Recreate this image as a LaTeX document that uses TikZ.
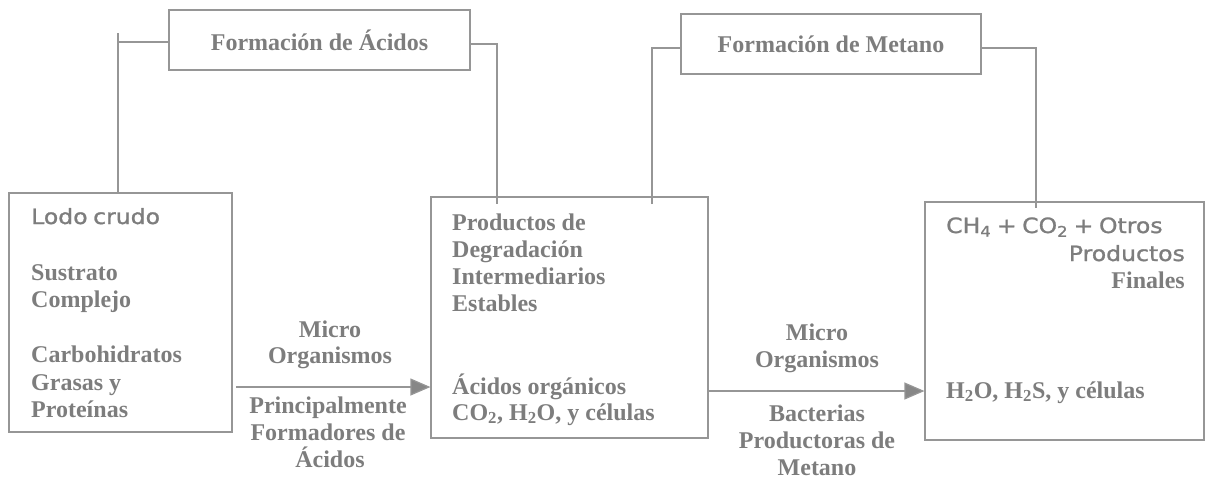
\documentclass[tikz,border=0pt]{standalone}
\usepackage{fontspec}
\setmainfont{Liberation Serif}
\newfontfamily\sansfnt[FakeStretch=1.12,FakeBold=1.2,WordSpace=0.75]{DejaVu Sans}
\usetikzlibrary{arrows.meta}
\definecolor{txt}{RGB}{125,125,125}
\definecolor{ln}{RGB}{150,150,150}
\definecolor{tip}{RGB}{135,135,135}
\begin{document}
\begin{tikzpicture}[x=1pt,y=-1pt,
  box/.style={draw=ln, line width=1.2pt, rectangle, inner sep=0pt},
  conn/.style={draw=ln, line width=1.2pt},
  arr/.style={draw=ln, line width=1.2pt, -{Triangle[length=20pt,width=17pt,fill=tip]}},
  st/.style={font=\fontsize{24}{27}\selectfont\bfseries, text=txt, inner sep=0pt, anchor=base west},
  ss/.style={font=\fontsize{21}{24}\selectfont\sansfnt, text=txt, inner sep=0pt, anchor=base west},
  sse/.style={font=\fontsize{21}{24}\selectfont\sansfnt, text=txt, inner sep=0pt, anchor=base east},
  ste/.style={font=\fontsize{24}{27}\selectfont\bfseries, text=txt, inner sep=0pt, anchor=base east},
  lab/.style={font=\fontsize{24}{27}\selectfont\bfseries, text=txt, inner sep=0pt, anchor=base}
]
\useasboundingbox (0,0) rectangle (1206,480);

% main boxes
\node[box, minimum width=223pt, minimum height=239pt] (b1) at (120.5,312.5) {};
\node[box, minimum width=277pt, minimum height=241pt] (b2) at (569.5,317.5) {};
\node[box, minimum width=279pt, minimum height=238pt] (b3) at (1064.5,321) {};

% title boxes
\node[box, minimum width=301pt, minimum height=60pt, font=\fontsize{24}{27}\selectfont\bfseries, text=txt] (tA) at (319.5,40) {Formación de Ácidos};
\node[box, minimum width=300pt, minimum height=60pt, font=\fontsize{24}{27}\selectfont\bfseries, text=txt] (tB) at (831,44) {Formación de Metano};

% connector coordinates
\coordinate (tickA) at (118,33);
\coordinate (jA) at (169,42);
\coordinate (eA) at (497,204);
\coordinate (eB) at (652,204);
\coordinate (eC) at (1036,208);

\draw[conn] (b1.north -| tickA) -- (tickA);
\draw[conn] (tickA |- jA) -- (jA);
\draw[conn] ([yshift=-4pt]tA.east) -| (eA);
\draw[conn] (eB) |- ([yshift=-4pt]tB.west);
\draw[conn] ([yshift=-4pt]tB.east) -| (eC);

% arrows
\coordinate (a1s) at (236,387);
\coordinate (a2s) at (708,391);
\draw[arr] (a1s) -- (a1s -| b2.west);
\draw[arr] (a2s) -- (a2s -| b3.west);

% box 1 text
\node[ss] (l1) at (31,224) {Lodo crudo};
\node[st] (l2) at (31,280) {Sustrato};
\node[st] (l3) at (31,307) {Complejo};
\node[st] (l4) at (31,362) {Carbohidratos};
\node[st] (l5) at (31,390) {Grasas y};
\node[st] (l6) at (31,417) {Proteínas};

% box 2 text
\node[st] (m1) at (452,230) {Productos de};
\node[st] (m2) at (452,257) {Degradación};
\node[st] (m3) at (452,284) {Intermediarios};
\node[st] (m4) at (452,311) {Estables};
\node[st] (m5) at (452,394) {Ácidos orgánicos};
\node[st] (m6) at (452,420) {CO\textsubscript{2}, H\textsubscript{2}O, y células};

% box 3 text
\node[ss] (r1) at (946,233) {CH\textsubscript{4} + CO\textsubscript{2} + Otros};
\node[sse] (r2) at (1185,261) {Productos};
\node[ste] (r3) at (1185,288) {Finales};
\node[st] (r4) at (946,398) {H\textsubscript{2}O, H\textsubscript{2}S, y células};

% arrow 1 labels
\node[lab] (p1) at (330,337) {Micro};
\node[lab] (p2) at (330,363) {Organismos};
\node[lab] (p3) at (328,413) {Principalmente};
\node[lab] (p4) at (328,440) {Formadores de};
\node[lab] (p5) at (330,467) {Ácidos};

% arrow 2 labels
\node[lab] (q1) at (817,340) {Micro};
\node[lab] (q2) at (817,367) {Organismos};
\node[lab] (q3) at (817,421) {Bacterias};
\node[lab] (q4) at (817,448) {Productoras de};
\node[lab] (q5) at (817,475) {Metano};
\end{tikzpicture}
\end{document}
